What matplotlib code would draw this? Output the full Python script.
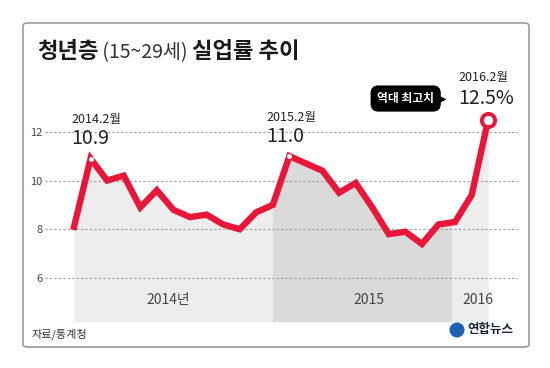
import numpy as np
import matplotlib.pyplot as plt
from matplotlib.patches import FancyBboxPatch, Circle

plt.rcParams['font.family'] = ['Noto Sans CJK KR', 'DejaVu Sans']

# ── Data ──────────────────────────────────────────────────────────────────────
# 청년층 실업률 (%), 2014.1 ~ 2016.2 월별
months = ["2014.1", "2014.2", "2014.3", "2014.4", "2014.5", "2014.6", "2014.7",
          "2014.8", "2014.9", "2014.10", "2014.11", "2014.12",
          "2015.1", "2015.2", "2015.3", "2015.4", "2015.5", "2015.6", "2015.7",
          "2015.8", "2015.9", "2015.10", "2015.11", "2015.12",
          "2016.1", "2016.2"]
rate = [8.1, 10.9, 10.0, 10.2, 8.9, 9.6, 8.8, 8.5, 8.6, 8.2, 8.0, 8.7, 9.0,
        11.0, 10.7, 10.4, 9.5, 9.9, 8.9, 7.8, 7.9, 7.4, 8.2, 8.3, 9.4, 12.5]
year_labels = ["2014년", "2015", "2016"]
y_ticks = [6, 8, 10, 12]

RED = "#e8173a"
x = np.arange(len(rate))
y = np.array(rate)

fig = plt.figure(figsize=(5.5, 3.68), dpi=100)

def fx(px):
    return px / 550

def fy(py):
    return 1 - py / 368

# ── Rámeček ───────────────────────────────────────────────────────────────────
frame = FancyBboxPatch((fx(23), fy(347)), fx(529) - fx(23), fy(23) - fy(347),
                       boxstyle="round,pad=0,rounding_size=0.008",
                       transform=fig.transFigure, fc="none", ec="#8a8a8a",
                       lw=1.0, zorder=-1)
fig.patches.append(frame)

# ── Osa ───────────────────────────────────────────────────────────────────────
ax = fig.add_axes([fx(45), fy(322), fx(518) - fx(45), fy(60) - fy(322)])
ax.set_facecolor("none")
ax.set_xlim(-1.75, 26.8)
ax.set_ylim(4.2, 14.94)
for s in ax.spines.values():
    s.set_visible(False)
ax.set_xticks([])
ax.set_yticks(y_ticks)
ax.set_yticklabels([str(t) for t in y_ticks], fontsize=8, color="#444444")
ax.tick_params(axis="y", length=0, pad=2)
ax.yaxis.grid(True, color="#9a9a9a", lw=0.8, linestyle=(0, (2, 2)), zorder=2)
ax.set_axisbelow(False)

# fill under curve, per year shade
base = ax.get_ylim()[0]
poly = ax.fill_between(x, y, base, color="#ededed", lw=0, zorder=1)
band = ax.axvspan(12, 22.8, color="#dadada", lw=0, zorder=1.5)
band.set_clip_path(poly.get_paths()[0], transform=ax.transData)

ax.plot(x, y, color=RED, lw=4.6, solid_joinstyle="miter", zorder=3)
ax.plot([1, 13], [y[1], y[13]], "o", ms=3.5, mfc="white", mec="none", zorder=4)
ax.plot(x[-1], y[-1], "o", ms=9.5, mfc="white", mec=RED, mew=2.8, zorder=4)

# year labels
year_pos = [5.7, 17.8, 24.4]
for xp, lab in zip(year_pos, year_labels):
    ax.text(xp, 5.1, lab, ha="center", va="center", fontsize=10, color="#444444")

# ── Popisky ───────────────────────────────────────────────────────────────────
def note(i, small, big, dx, big_size=14):
    ax.annotate(small, (x[i], y[i]), xytext=(dx, 39), textcoords="offset pixels",
                ha="left", va="center", fontsize=9, color="#222222")
    ax.annotate(big, (x[i], y[i]), xytext=(dx, 20), textcoords="offset pixels",
                ha="left", va="center", fontsize=big_size, color="#222222")

note(1, "2014.2월", f"{rate[1]:.1f}", -19)
note(13, "2015.2월", f"{rate[13]:.1f}", -23)
ax.annotate("2016.2월", (x[-1], y[-1]), xytext=(-30, 42), textcoords="offset pixels",
            ha="left", va="center", fontsize=9, color="#222222")
ax.annotate(f"{rate[-1]:.1f}%", (x[-1], y[-1]), xytext=(-30, 21),
            textcoords="offset pixels", ha="left", va="center", fontsize=14,
            color="#222222")
ax.annotate("역대 최고치", (x[-1], y[-1]), xytext=(-54, 21), textcoords="offset pixels",
            ha="right", va="center", fontsize=8.5, color="white", fontweight="bold",
            bbox=dict(boxstyle="round,pad=0.5,rounding_size=0.6", fc="black", ec="black"))
ax.annotate("▶", (x[-1], y[-1]), xytext=(-45, 21), textcoords="offset pixels",
            ha="center", va="center", fontsize=7, color="black",
            family=["DejaVu Sans"])

# ── Titulek ───────────────────────────────────────────────────────────────────
t1 = fig.text(fx(37), fy(58), "청년층", fontsize=16, fontweight="bold",
              color="#1a1a1a", ha="left", va="baseline")
t2 = fig.text(0, 0, " (15~29세) ", fontsize=14, color="#333333")
t3 = fig.text(0, 0, "실업률 추이", fontsize=16, fontweight="bold", color="#1a1a1a")
fig.canvas.draw()
r = fig.canvas.get_renderer()
bb1 = t1.get_window_extent(r)
t2.set_position((bb1.x1 / 550, fy(58)))
t2.set_va("baseline")
fig.canvas.draw()
bb2 = t2.get_window_extent(r)
t3.set_position((bb2.x1 / 550, fy(58)))
t3.set_va("baseline")

# ── Zdroj a logo ──────────────────────────────────────────────────────────────
fig.text(fx(32), fy(334), "자료/통계청", fontsize=8, color="#333333",
         ha="left", va="center", style="italic")
fig.patches.append(Circle((4.57, (368 - 330) / 100), 0.075,
                          transform=fig.dpi_scale_trans, fc="#1f5fb8", ec="none"))
fig.text(fx(467), fy(330), "연합뉴스", fontsize=9, fontweight="bold",
         color="#1c2333", ha="left", va="center")

plt.savefig("out.png", dpi=100)
